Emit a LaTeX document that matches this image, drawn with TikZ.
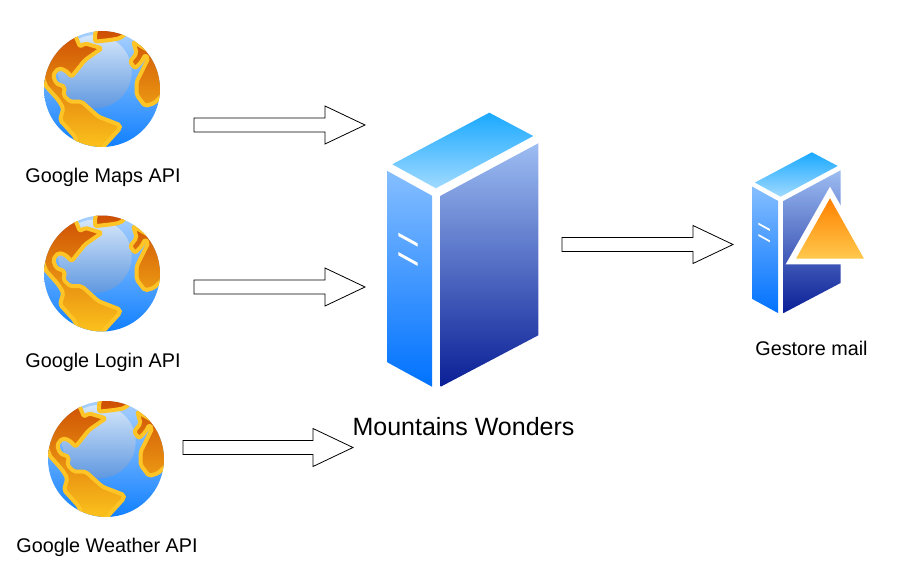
\documentclass[tikz,border=0pt]{standalone}
\usepackage{fontspec}
\setmainfont{Liberation Sans}
\usetikzlibrary{calc}
\definecolor{Sky}{HTML}{1AA9FF}
\definecolor{SkyPale}{HTML}{A0DAFF}
\definecolor{FaceTop}{HTML}{85BEFF}
\definecolor{FaceLow}{HTML}{0072FF}
\definecolor{SideTop}{HTML}{9DBDF2}
\definecolor{SideLow}{HTML}{0A1F96}
\definecolor{Flame}{HTML}{FF8000}
\definecolor{Honey}{HTML}{FFC94D}
\definecolor{Rust}{HTML}{C84000}
\definecolor{Amber}{HTML}{FFCA1E}
\definecolor{Coast}{HTML}{FFC425}
\definecolor{SeaTop}{HTML}{A8D0FF}
\definecolor{SeaLow}{HTML}{1080FF}
\definecolor{GlowTop}{HTML}{D4E6FA}
\definecolor{GlowLow}{HTML}{5F98E0}
\newcommand{\blockarrow}[2]{%
    \draw[blockline] ($(#1)+(0,-7)$) -- ($(#2)+(-40,-7)$) -- ($(#2)+(-40,-19)$)
        -- (#2) -- ($(#2)+(-40,19)$) -- ($(#2)+(-40,7)$) -- ($(#1)+(0,7)$) -- cycle;}
\tikzset{
    x=1pt, y=-1pt,
    blockline/.style={draw=black, fill=white, line width=0.8pt, line join=miter},
    apilabel/.style={font=\fontsize{19.8}{22}\selectfont, inner sep=0pt},
    server/.pic={
        \shade[top color=FaceTop, bottom color=FaceLow]
            (0,58.3) -- (44.7,83) -- (44.7,274) -- (0,249.6) -- cycle;
        \shade[top color=SideTop, bottom color=SideLow]
            (53.4,83) -- (151,30.6) -- (151,222.6) -- (53.4,274) -- cycle;
        \shade[top color=Sky, bottom color=SkyPale]
            (5,51.6) -- (102,0) -- (146,23.3) -- (48.7,75.6) -- cycle;
        \fill[white] (11,120) -- (30.4,130.6) -- (30.4,134) -- (11,123.3) -- cycle;
        \fill[white] (11,139.3) -- (30.4,150) -- (30.4,153.3) -- (11,142.6) -- cycle;
    },
    globe/.pic={
        \begin{scope}
            \clip (0,0) circle[radius=174];
            \shade[top color=SeaTop, bottom color=SeaLow] (0,0) circle[radius=174];
            \shade[top color=GlowTop, bottom color=GlowLow] (-21,-52) circle[radius=110];
            \shadedraw[top color=Rust, bottom color=Amber, draw=Coast, line width=4pt,
                line join=round, rounded corners=2pt]
                % main land
                (-171,-17) -- (-200,-100) -- (-100,-190) -- (-81,-162) -- (-66,-127)
                -- (-51,-137) -- (-1,-122) -- (-51,-87) -- (-91,-37) -- (-111,-57)
                -- (-131,-62) -- (-147,-42) -- (-138,-17) -- (-111,-6) -- (-116,18)
                -- (-96,38) -- (-61,38) -- (-11,83) -- (54,108) -- (54,118) -- (4,173)
                -- (0,200) -- (-80,200) -- (-76,158) -- (-81,143) -- (-126,93)
                -- (-116,58) -- (-131,33) -- (-171,-12) -- cycle
                % top cap
                (-21,-167) -- (-21,-142) -- (24,-147) -- (54,-152) -- (100,-190)
                -- (0,-220) -- cycle
                % east land
                (94,-142) -- (104,-107) -- (84,-82) -- (99,-62) -- (119,-82)
                -- (129,-102) -- (139,-92) -- (104,-22) -- (104,18) -- (129,51)
                -- (156,43) -- (200,0) -- (200,-80) -- cycle;
        \end{scope}
    },
}
\begin{document}
\begin{tikzpicture}
    \useasboundingbox (0,0) rectangle (897,580);

    % Sources on the left
    \pic[scale=1/3] at (102,89) {globe};
    \pic[scale=1/3] at (102,273.5) {globe};
    \pic[scale=1/3] at (106,459) {globe};
    \node[apilabel] (maps) at (103,177) {Google Maps API};
    \node[apilabel] (login) at (103,362) {Google Login API};
    \node[apilabel] (weather) at (107,547) {Google Weather API};

    % Servers
    \pic at (387.3,112.7) {server};
    \pic[scale=0.587] at (752,152.3) {server};
    \node[font=\fontsize{25}{27}\selectfont, inner sep=0pt] (wonders) at (463.5,427) {Mountains Wonders};
    \node[apilabel] (mail) at (811.5,348) {Gestore mail};

    % Warning triangle on the small server
    \fill[white] (830,186.7) -- (785.7,264.3) -- (874,264.3) -- cycle;
    \shade[top color=Flame, bottom color=Honey] (830,198.3) -- (796,258.7) -- (864,258.7) -- cycle;

    % Arrows
    \coordinate (mapsout) at (194,125);
    \coordinate (mapsin) at (365,125);
    \coordinate (loginout) at (194,287);
    \coordinate (loginin) at (365,287);
    \coordinate (weatherout) at (183,447.5);
    \coordinate (weatherin) at (353,447.5);
    \coordinate (mailout) at (562,244.5);
    \coordinate (mailin) at (733,244.5);
    \blockarrow{mapsout}{mapsin}
    \blockarrow{loginout}{loginin}
    \blockarrow{weatherout}{weatherin}
    \blockarrow{mailout}{mailin}
\end{tikzpicture}
\end{document}
